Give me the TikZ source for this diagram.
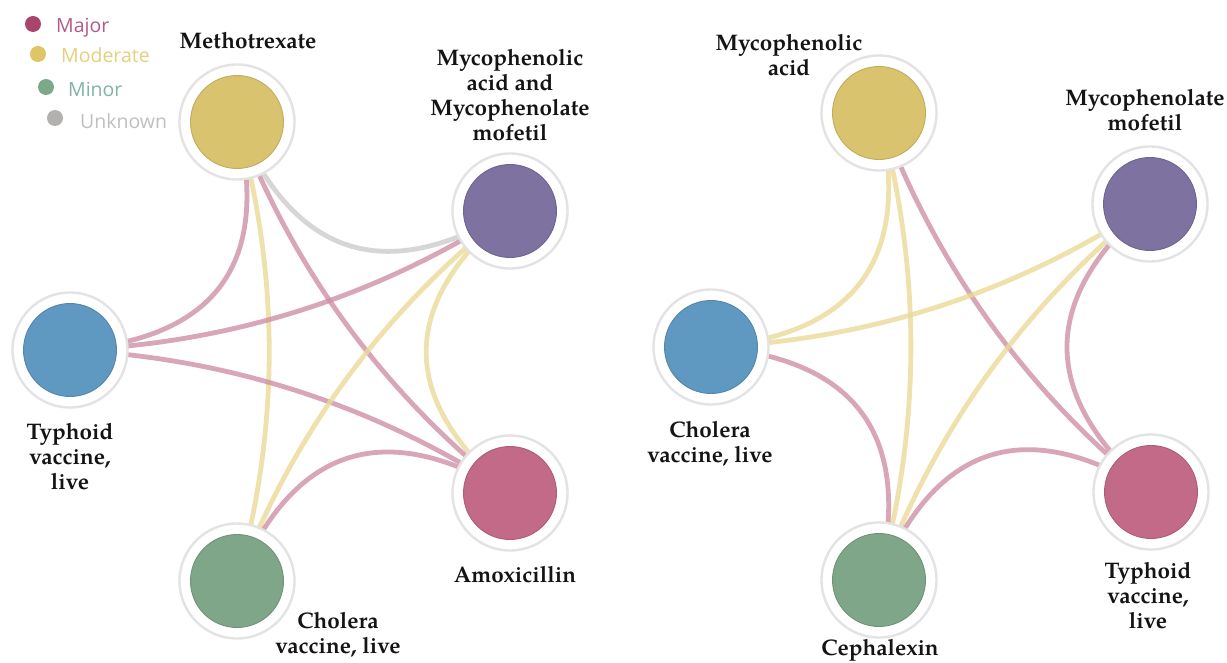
\documentclass[tikz,border=0pt]{standalone}
\usepackage{fontspec}
\setsansfont{Open Sans}
\newfontfamily\labfont{texgyrepagella-bold.otf}
\usetikzlibrary{calc}
\pgfdeclarelayer{bgfill}
\pgfdeclarelayer{edges}
\pgfsetlayers{bgfill,edges,main}
\definecolor{nYel}{HTML}{D9C36E}
\definecolor{nPur}{HTML}{7D72A0}
\definecolor{nBlu}{HTML}{5F98C1}
\definecolor{nGrn}{HTML}{7FA689}
\definecolor{nPnk}{HTML}{C26A87}
\definecolor{eMaj}{HTML}{CF8FA8}
\definecolor{eMod}{HTML}{EADA98}
\definecolor{eUnk}{HTML}{D6D6D6}
\definecolor{lMajD}{HTML}{A8456C}
\definecolor{lMajT}{HTML}{B3598A}
\definecolor{lModD}{HTML}{DEC566}
\definecolor{lModT}{HTML}{E5D07C}
\definecolor{lMinD}{HTML}{7DA98B}
\definecolor{lMinT}{HTML}{7FB3A6}
\definecolor{lUnkD}{HTML}{B3B0B0}
\definecolor{lUnkT}{HTML}{C2BEBE}
\newcommand\drawlink[4]{%
  \coordinate (lkM) at ($(#2.center)!0.5!(#3.center)$);
  \coordinate (lkP) at ($(lkM)!0.85!(#4)$);
  \begin{pgfonlayer}{edges}
  \draw[#1] (#2.center) .. controls ($(#2.center)!0.6667!(lkP)$) and ($(#3.center)!0.6667!(lkP)$) .. (#3.center);
  \end{pgfonlayer}}
\begin{document}
\begin{tikzpicture}[x=1pt,y=-1pt,
  ring/.style={circle, fill=white, draw=black!11, line width=2.4pt, minimum size=115pt, inner sep=0pt},
  core/.style={circle, minimum size=93pt, inner sep=0pt, draw=#1!88!black, line width=0.9pt, fill=#1},
  lab/.style={font=\labfont\fontsize{22.5}{25}\selectfont, align=center, text=black!92, inner sep=0pt},
  major/.style={draw=eMaj, line width=4.8pt, draw opacity=0.8},
  moder/.style={draw=eMod, line width=4.8pt, draw opacity=0.8},
  unkn/.style={draw=eUnk, line width=4.8pt},
  legdot/.style={circle, inner sep=0pt, minimum size=16pt},
  legtxt/.style={font=\sffamily\fontsize{19.5}{21}\selectfont, anchor=base west, inner sep=0pt}]
\useasboundingbox (0,0) rectangle (1227,663);
\begin{pgfonlayer}{bgfill}
\fill[white] (0,0) rectangle (1227,663);
\end{pgfonlayer}

% legend
\node[legdot, fill=lMajD] (lg1) at (33,24) {};
\node[legtxt, text=lMajT] (lg1t) at (56,33) {Major};
\node[legdot, fill=lModD] (lg2) at (38,54) {};
\node[legtxt, text=lModT] (lg2t) at (61,63) {Moderate};
\node[legdot, fill=lMinD] (lg3) at (46,87) {};
\node[legtxt, text=lMinT] (lg3t) at (68,96.5) {Minor};
\node[legdot, fill=lUnkD] (lg4) at (55,118) {};
\node[legtxt, text=lUnkT] (lg4t) at (80,129) {Unknown};

% left graph
\coordinate (C1) at (312.8,351.4);
\node[ring] (mtx) at (237,122) {}; \node[core=nYel] (mtxc) at (mtx) {};
\node[ring] (mmx) at (510,211) {}; \node[core=nPur] (mmxc) at (mmx) {};
\node[ring] (ty1) at (70,350) {};  \node[core=nBlu] (ty1c) at (ty1) {};
\node[ring] (ch1) at (237,581) {}; \node[core=nGrn] (ch1c) at (ch1) {};
\node[ring] (amx) at (510,493) {}; \node[core=nPnk] (amxc) at (amx) {};

\node[lab] (mtxl) at (248,41) {Methotrexate};
\node[lab] (mmxl) at (510,95) {Mycophenolic\\acid and\\Mycophenolate\\mofetil};
\node[lab] (ty1l) at (70,457) {Typhoid\\vaccine,\\live};
\node[lab] (ch1l) at (338,635) {Cholera\\vaccine, live};
\node[lab] (amxl) at (515,575) {Amoxicillin};

\drawlink{major}{mtx}{ty1}{C1}
\drawlink{unkn}{mtx}{mmx}{C1}
\drawlink{moder}{mtx}{ch1}{C1}
\drawlink{major}{mtx}{amx}{C1}
\drawlink{major}{ty1}{mmx}{C1}
\drawlink{major}{ty1}{amx}{C1}
\drawlink{moder}{mmx}{ch1}{C1}
\drawlink{moder}{mmx}{amx}{C1}
\drawlink{major}{ch1}{amx}{C1}

% right graph
\coordinate (C2) at (954,347);
\node[ring] (mya) at (879,113) {};  \node[core=nYel] (myac) at (mya) {};
\node[ring] (mmf) at (1150,204) {}; \node[core=nPur] (mmfc) at (mmf) {};
\node[ring] (ch2) at (711,347) {};  \node[core=nBlu] (ch2c) at (ch2) {};
\node[ring] (cep) at (879,580) {};  \node[core=nGrn] (cepc) at (cep) {};
\node[ring] (ty2) at (1151,492) {}; \node[core=nPnk] (ty2c) at (ty2) {};

\node[lab] (myal) at (789,55) {Mycophenolic\\acid};
\node[lab] (mmfl) at (1145,110.5) {Mycophenolate\\mofetil};
\node[lab] (ch2l) at (710,443.5) {Cholera\\vaccine, live};
\node[lab] (ty2l) at (1148,596) {Typhoid\\vaccine,\\live};
\node[lab] (cepl) at (880,650) {Cephalexin};

\drawlink{moder}{mya}{ch2}{C2}
\drawlink{moder}{mya}{cep}{C2}
\drawlink{major}{mya}{ty2}{C2}
\drawlink{moder}{ch2}{mmf}{C2}
\drawlink{major}{ch2}{cep}{C2}
\drawlink{moder}{mmf}{cep}{C2}
\drawlink{major}{mmf}{ty2}{C2}
\drawlink{major}{cep}{ty2}{C2}
\end{tikzpicture}
\end{document}
